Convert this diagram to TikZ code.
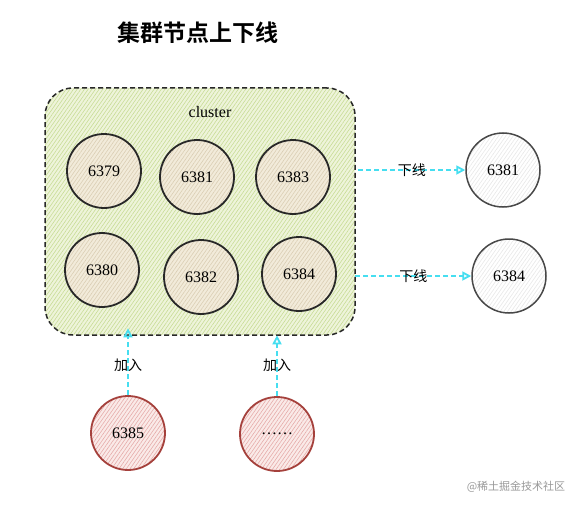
\documentclass[tikz,border=0pt]{standalone}
\usepackage{fontspec}
\setmainfont{Liberation Serif}
\newfontfamily\cjk{Noto Sans CJK SC}
\newfontfamily\cjkb{Noto Sans CJK SC Bold}
\usetikzlibrary{patterns,patterns.meta,arrows.meta}
\definecolor{clfill}{RGB}{238,244,218}
\definecolor{clline}{RGB}{200,220,150}
\definecolor{ndfill}{RGB}{242,235,218}
\definecolor{ndline}{RGB}{218,206,180}
\definecolor{rdfill}{RGB}{250,234,232}
\definecolor{rdline}{RGB}{230,172,170}
\definecolor{rdborder}{RGB}{165,65,60}
\definecolor{offline}{RGB}{232,232,232}
\definecolor{arr}{RGB}{70,222,240}
\definecolor{ink}{RGB}{40,40,40}
\tikzset{
  hatch/.style 2 args={preaction={fill=#1},pattern={Lines[angle=55,distance=3pt,line width=0.6pt]},pattern color=#2},
  member/.style={circle,minimum size=74pt,inner sep=0pt,draw=ink,line width=1.8pt,hatch={ndfill}{ndline},font=\fontsize{16}{18}\selectfont},
  gone/.style={circle,minimum size=74pt,inner sep=0pt,draw=ink!85,line width=1.5pt,hatch={white}{offline},font=\fontsize{16}{18}\selectfont},
  newnode/.style={circle,minimum size=74pt,inner sep=0pt,draw=rdborder,line width=1.8pt,hatch={rdfill}{rdline},font=\fontsize{16}{18}\selectfont},
  flow/.style={draw=arr,dash pattern=on 5pt off 3pt,line width=1.8pt,-{Triangle[open,length=9pt,width=9pt]}},
  lbl/.style={font=\cjk\fontsize{14}{16}\selectfont,text=black,inner sep=1pt}
}
\begin{document}
\begin{tikzpicture}[x=1pt,y=-1pt]
\useasboundingbox (0,0) rectangle (588,508);
\fill[white] (0,0) rectangle (588,508);
\node[font=\cjkb\fontsize{23}{27}\selectfont] (title) at (198,33) {集群节点上下线};
\node[draw=ink,dash pattern=on 5pt off 3pt,line width=1.5pt,rounded corners=28pt,hatch={clfill}{clline},minimum width=310pt,minimum height=247pt,inner sep=0pt] (cluster) at (200,211.5) {};
\node[font=\fontsize{16}{18}\selectfont] (clabel) at (210,112) {cluster};
\node[member] (n6379) at (104,171) {6379};
\node[member] (n6381) at (197,177) {6381};
\node[member] (n6383) at (293,177) {6383};
\node[member] (n6380) at (102,270) {6380};
\node[member] (n6382) at (201,277) {6382};
\node[member] (n6384) at (299,274) {6384};
\node[gone] (o6381) at (503,170) {6381};
\node[gone] (o6384) at (509,276) {6384};
\node[newnode] (n6385) at (128,433) {6385};
\node[newnode] (nmore) at (277,434) {……};
\coordinate (a1) at (cluster.east |- o6381);
\coordinate (a2) at (cluster.east |- o6384);
\draw[flow] ([xshift=3pt]a1) -- (o6381.west) node[lbl,midway] {下线};
\draw[flow] (a2) -- (o6384.west) node[lbl,midway] {下线};
\coordinate (b1) at (n6385.north |- cluster.south);
\coordinate (b2) at (nmore.north |- cluster.south);
\draw[flow] (n6385.north) -- ([yshift=7pt]b1) node[lbl,pos=0.45] {加入};
\draw[flow] (nmore.north) -- (b2) node[lbl,pos=0.5] {加入};
\node[font=\cjk\fontsize{11}{13}\selectfont,text=black!40] (wm) at (516,487) {@稀土掘金技术社区};
\end{tikzpicture}
\end{document}
